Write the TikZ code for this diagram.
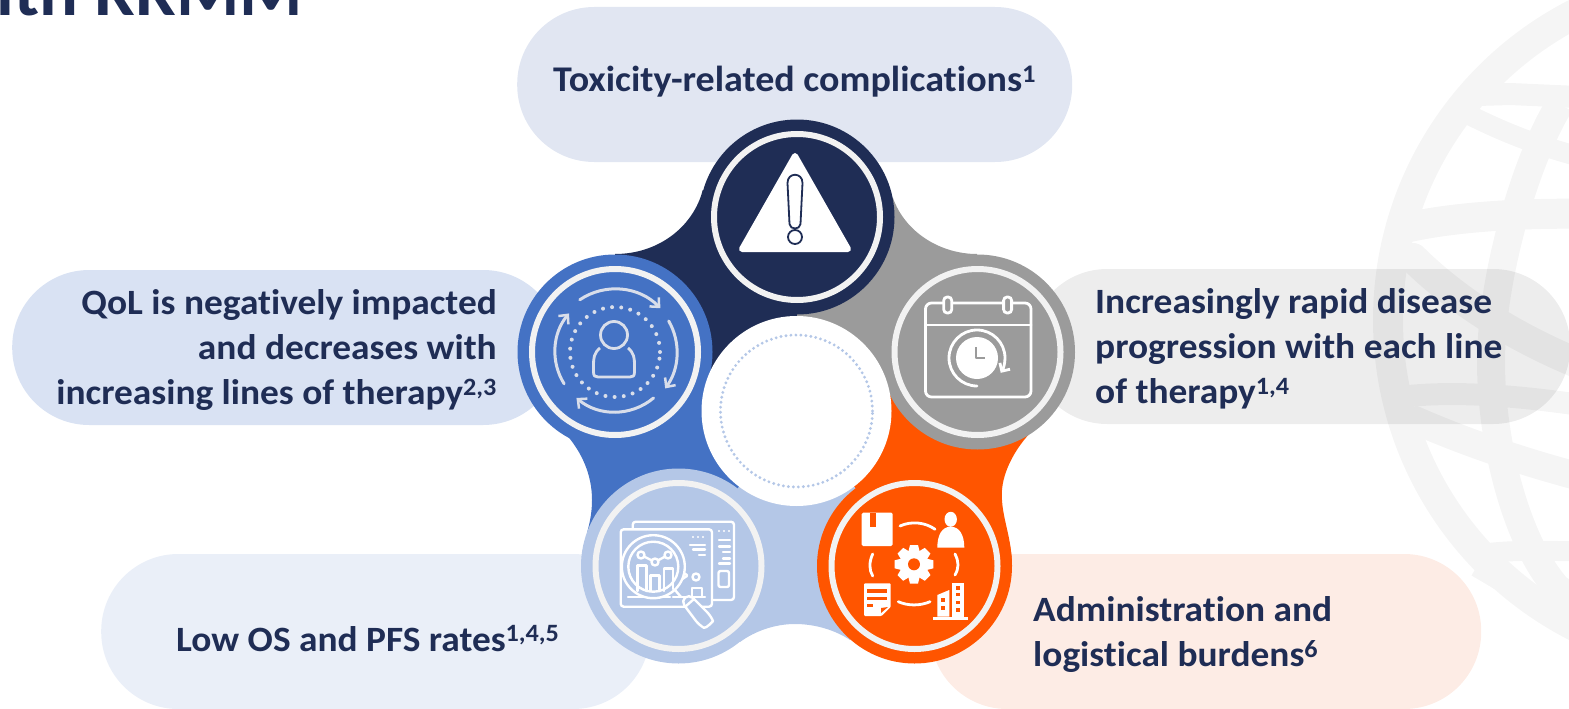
\documentclass[tikz,border=0pt]{standalone}
\usepackage{fontspec}
\setmainfont{Carlito}[Ligatures=NoCommon,BoldFeatures={FakeStretch=1.05}]
\usetikzlibrary{arrows.meta}
\definecolor{navyc}{HTML}{1F2D55}
\definecolor{bluec}{HTML}{4472C4}
\definecolor{grayc}{HTML}{9B9B9B}
\definecolor{orangec}{HTML}{FF5500}
\definecolor{lightc}{HTML}{B4C7E7}
\definecolor{ringc}{HTML}{F2F2F2}
\definecolor{globec}{HTML}{F5F5F5}
\definecolor{iconc}{HTML}{D9DEEA}
\definecolor{ptopc}{HTML}{E1E6F2}
\definecolor{pleftc}{HTML}{D9E2F3}
\definecolor{pblc}{HTML}{EAEFF8}
\definecolor{pbrc}{HTML}{FDECE5}
\tikzset{
  pill/.style={rectangle,rounded corners=77pt,minimum height=155pt,inner sep=0pt,anchor=west},
  blob/.style={circle,minimum size=195pt,inner sep=0pt,fill=#1},
  ringn/.style={circle,minimum size=166pt,inner sep=0pt,draw=ringc,line width=6pt,fill=none},
  txt/.style={text=navyc,font=\fontsize{35.6}{45}\selectfont\bfseries,inner sep=0pt},
  gband/.style={draw=globec,line cap=round,fill=none},
  ic/.style={draw=white,line width=2.4pt,fill=none,line cap=round,line join=round},
  icfill/.style={fill=white,draw=none},
  barb/.style={-{Straight Barb[length=7pt,width=13pt,line width=2.5pt]}},
}
\begin{document}
\begin{tikzpicture}[x=1pt,y=-1pt]
\useasboundingbox (0,0) rectangle (1569,709);
\begin{scope}
\clip (0,0) rectangle (1569,709);
% globe
\coordinate (gc) at (1732,320);
\node[circle,minimum size=688pt,inner sep=0pt,draw=globec,line width=30pt] (globe) at (gc) {};
\draw[gband,line width=28pt,line cap=butt] (1560,104) .. controls (1525,160) and (1491,280) .. (1491,362) .. controls (1491,440) and (1515,540) .. (1557,588) -- (1590,610);
\draw[gband,line width=22pt,line cap=butt] (1478,95) -- (1510,94) -- (1600,98);
\draw[gband,line width=20pt,line cap=butt] (1455,108) .. controls (1495,128) and (1530,145) .. (1600,162);
\draw[gband,line width=30pt,line cap=butt] (1405,228) .. controls (1440,220) and (1500,212) .. (1600,214);
\draw[gband,line width=30pt] (1413,258) .. controls (1440,285) and (1500,335) .. (1600,372);
\draw[gband,line width=22pt,line cap=butt] (1400,397) .. controls (1440,392) and (1500,392) .. (1600,408);
\draw[gband,line width=28pt,line cap=butt] (1410,418) .. controls (1460,440) and (1520,462) .. (1600,482);
\draw[gband,line width=20pt,line cap=butt] (1470,556) .. controls (1500,550) and (1530,550) .. (1600,552);
\draw[gband,line width=22pt,line cap=butt] (1477,566) .. controls (1510,585) and (1540,605) .. (1600,635);
% pills
\node[pill,minimum width=555pt,fill=ptopc] (ptop) at (517,84.5) {};
\node[pill,minimum width=548pt,fill=pleftc] (pleft) at (12,347.5) {};
\node[pill,minimum width=540pt,fill=black,fill opacity=.07] (pright) at (1030,346.5) {};
\node[pill,minimum width=549pt,fill=pblc] (pbl) at (101,631.5) {};
\node[pill,minimum width=551pt,fill=pbrc] (pbr) at (930,631.5) {};
% title fragment
\node[anchor=base east,inner sep=0pt,text=navyc,font=\fontsize{69}{71}\selectfont\bfseries] (title) at (303,15.5) {with RRMM};
\end{scope}
% centres
\coordinate (tc) at (797,217);
\coordinate (lc) at (615,352);
\coordinate (rc) at (977.5,352);
\coordinate (blc) at (678.5,566);
\coordinate (brc) at (914.5,566);
\coordinate (dc) at (796.5,411);
% wedges
\fill[grayc] (893,198) .. controls (905,232) and (940,254) .. (977,254) -- (rc) -- (dc) -- (tc) -- cycle;
\fill[orangec] (1030,433) .. controls (1010,455) and (1000,480) .. (1002,500) .. controls (1003,520) and (1012,540) .. (1012,566) -- (brc) -- (dc) -- (rc) -- cycle;
\fill[lightc] (740,642) .. controls (755,631) and (775,624) .. (795,624) .. controls (815,624) and (835,630) .. (850,640) -- (brc) -- (dc) -- (blc) -- cycle;
\fill[bluec] (565,433) .. controls (582,452) and (592,475) .. (592,500) .. controls (592,512) and (590,522) .. (587,533) -- (blc) -- (dc) -- (lc) -- cycle;
\fill[navyc] (702.7,190) .. controls (694,225) and (660,254) .. (615,254) -- (lc) -- (dc) -- (tc) -- cycle;
% discs
\node[blob=navyc] (topdisc) at (tc) {};
\node[blob=grayc] (rightdisc) at (rc) {};
\node[blob=bluec] (leftdisc) at (lc) {};
\node[blob=lightc] (bldisc) at (blc) {};
\node[blob=orangec] (brdisc) at (brc) {};
\node[ringn] at (tc) {};
\node[ringn] at (rc) {};
\node[ringn] at (lc) {};
\node[ringn] at (blc) {};
\node[ringn] at (brc) {};
% centre
\node[circle,minimum size=190pt,inner sep=0pt,fill=white] (centre) at (dc) {};
\node[circle,minimum size=152pt,inner sep=0pt,draw=lightc,line width=3.2pt,line cap=round,dash pattern=on 0pt off 5pt] (dots) at (dc) {};
% warning icon
\fill[white,draw=white,line width=6pt,line join=round] (795,156) -- (848,249) -- (742,249) -- cycle;
\draw[navyc,line width=1.8pt,fill=white] (787.5,183) .. controls (787.5,172) and (802.5,172) .. (802.5,183) -- (800.5,224) .. controls (800,230) and (790,230) .. (789.5,224) -- cycle;
\draw[navyc,line width=1.8pt,fill=white] (795,237) circle[radius=7pt];
% person icon
\begin{scope}[draw=iconc]
\draw[iconc,line width=2.8pt] (614,335) circle[radius=13.5pt];
\draw[iconc,line width=2.8pt,line join=round] (600,348) .. controls (594,353) and (593.5,358) .. (593.5,365) -- (593.5,372) .. controls (593.5,376) and (595,377) .. (598,377) -- (630,377) .. controls (633,377) and (634.5,376) .. (634.5,372) -- (634.5,365) .. controls (634.5,358) and (634,353) .. (628,348);
\draw[iconc,line width=4pt,line cap=round,dash pattern=on 0pt off 9.2pt] (lc) circle[radius=45pt];
\draw[iconc,line width=3pt,line cap=round,barb] ([shift=(124:63pt)]lc) arc[start angle=124,end angle=44,radius=63pt];
\draw[iconc,line width=3pt,line cap=round,barb] ([shift=(30:62pt)]lc) arc[start angle=30,end angle=-36,radius=62pt];
\draw[iconc,line width=3pt,line cap=round,barb] ([shift=(-50:60pt)]lc) arc[start angle=-50,end angle=-130,radius=60pt];
\draw[iconc,line width=3pt,line cap=round,barb] ([shift=(212:60pt)]lc) arc[start angle=212,end angle=140,radius=60pt];
\end{scope}
% calendar icon
\draw[ic,line width=2.8pt,rounded corners=6pt] (925.5,303) rectangle (1031,397);
\draw[ic,line width=2.8pt] (925.5,325) -- (1031,325);
\foreach \xx in {947.7,1007.6}{
  \draw[white,line width=2.8pt,fill=grayc,rounded corners=3.5pt] (\xx-4,297) rectangle (\xx+4,313);
}
\coordinate (clk) at (977,358);
\fill[white] (clk) circle[radius=21pt];
\draw[grayc,line width=2.8pt,line join=round] (976,347) -- (976,358) -- (985,358);
\draw[white,line width=2.8pt,line cap=round,-{Straight Barb[length=6pt,width=12pt,line width=2.8pt]}] ([shift=(-90:28pt)]clk) arc[start angle=-90,end angle=-392,radius=28pt];
% chart icon
\draw[ic,rounded corners=3pt] (632.7,521.7) rectangle (734,600);
\draw[ic,fill=lightc,rounded corners=3pt] (620.7,529.3) rectangle (712,606.7);
\draw[ic] (628,597) -- (670,597) (673,597) -- (705,597);
\draw[ic] (692,588) -- (692,597) (692,588) -- (702,588) -- (702,597);
\draw[ic,dash pattern=on 0pt off 5pt] (693,537) -- (705,537);
\draw[ic] (690,545) -- (705,545) (693,549.5) -- (705,549.5) (699,555) -- (705,555);
\draw[ic,dash pattern=on 0pt off 5pt] (719,531) -- (730,531);
\draw[ic] (719,540) -- (730,540) (719,546.5) -- (730,546.5) (723,552) -- (730,552) (723,558.5) -- (730,558.5) (719,563.5) -- (730,563.5);
\draw[ic,rounded corners=2pt] (718.5,571) rectangle (729,587);
\draw[ic] (668,588) -- (687,576);
\draw[ic] (672,566) -- (687,575);
\draw[ic] (696,577) circle[radius=3.5pt];
\draw[ic,fill=lightc] (653.3,566.7) circle[radius=31.5pt];
\draw[ic] (653.3,566.7) circle[radius=25pt];
\draw[ic] (641,555) -- (655,562) -- (668,555);
\draw[ic,fill=lightc] (641,555) circle[radius=3.5pt];
\draw[ic,fill=lightc] (655,562) circle[radius=3.5pt];
\draw[ic,fill=lightc] (668,555) circle[radius=3.5pt];
\draw[ic] (637.5,591) -- (637.5,565.5) -- (646.5,565.5) -- (646.5,591);
\draw[ic] (650.5,591) -- (650.5,575.5) -- (659.5,575.5) -- (659.5,591);
\draw[ic] (664,591) -- (664,568.5) -- (673,568.5) -- (673,589);
\draw[ic] (675,590) -- (681,597);
\draw[ic,fill=lightc,rounded corners=5.5pt] (681,601) -- (689,594) -- (711,616) .. controls (713,621) and (706,629) .. (699,625) -- cycle;
\draw[ic] (686,606) -- (694,599);
% logistics icon
\fill[white,rounded corners=1.5pt] (861.7,512.7) rectangle (892.7,546);
\fill[orangec] (870,512.7) rectangle (876,526.5);
\fill[white] (950.7,519.3) ellipse[x radius=6.2pt,y radius=7.5pt];
\fill[white] (937.3,547.7) .. controls (937.3,535) and (942,526.7) .. (950.7,526.7) .. controls (959.5,526.7) and (964.3,535) .. (964.3,547.7) -- cycle;
\draw[ic,line width=2.8pt] (900,526) .. controls (911,521) and (925,522) .. (935,529.3);
\draw[ic,line width=2.8pt] (872.7,554) .. controls (869,562) and (869,570) .. (872.7,576);
\draw[ic,line width=2.8pt] (955,554) .. controls (959,562) and (959,568) .. (955,575);
\draw[ic,line width=2.8pt] (898.3,601.7) .. controls (908,606) and (920,606) .. (930,601.7);
\coordinate (gear) at (914,564.3);
\foreach \an in {0,45,...,315}{
  \fill[white,rotate around={\an:(gear)}] (910,545) -- (918,545) -- (920,553) -- (908,553) -- cycle;
}
\fill[white] (gear) circle[radius=14pt];
\fill[orangec] (gear) circle[radius=6pt];
\fill[white,rounded corners=1pt] (864,583.3) -- (890.7,583.3) -- (890.7,607) -- (881.5,616) -- (864,616) -- cycle;
\fill[orangec] (867.3,588.5) rectangle (887.3,592.7);
\fill[orangec] (867.3,596.7) rectangle (887.3,600);
\fill[orangec] (867.3,604) rectangle (873.3,607.3);
\fill[orangec] (881,613) -- (881,608) -- (888,607) -- cycle;
\fill[white] (951.7,583.3) rectangle (964,616.7);
\foreach \yy in {588,594.5,602.5,610}{
  \fill[orangec] (956,\yy-1.7) rectangle (960,\yy+1.7);
}
\fill[white] (937.3,595) -- (949.3,590) -- (949.3,616.7) -- (937.3,616.7) -- cycle;
\fill[orangec] (941,598) rectangle (945,602);
\fill[orangec] (941,606) rectangle (945,609.5);
\fill[white] (933.3,616.7) rectangle (968.3,620);
% texts
\node[txt,font=\fontsize{36.2}{45}\selectfont\bfseries,anchor=base west] (t1) at (553,92) {Toxicity-related complications\textsuperscript{1}};
\node[txt,anchor=east,align=right] (t2) at (497,350) {QoL is negatively impacted\\and decreases with\\increasing lines of therapy\textsuperscript{2,3}};
\node[txt,anchor=west,align=left] (t3) at (1095,349) {Increasingly rapid disease\\progression with each line\\of therapy\textsuperscript{1,4}};
\node[txt,anchor=base west] (t4) at (176,651) {Low OS and PFS rates\textsuperscript{1,4,5}};
\node[txt,anchor=west,align=left] (t5) at (1033,634.5) {Administration and\\logistical burdens\textsuperscript{6}};
\end{tikzpicture}
\end{document}
